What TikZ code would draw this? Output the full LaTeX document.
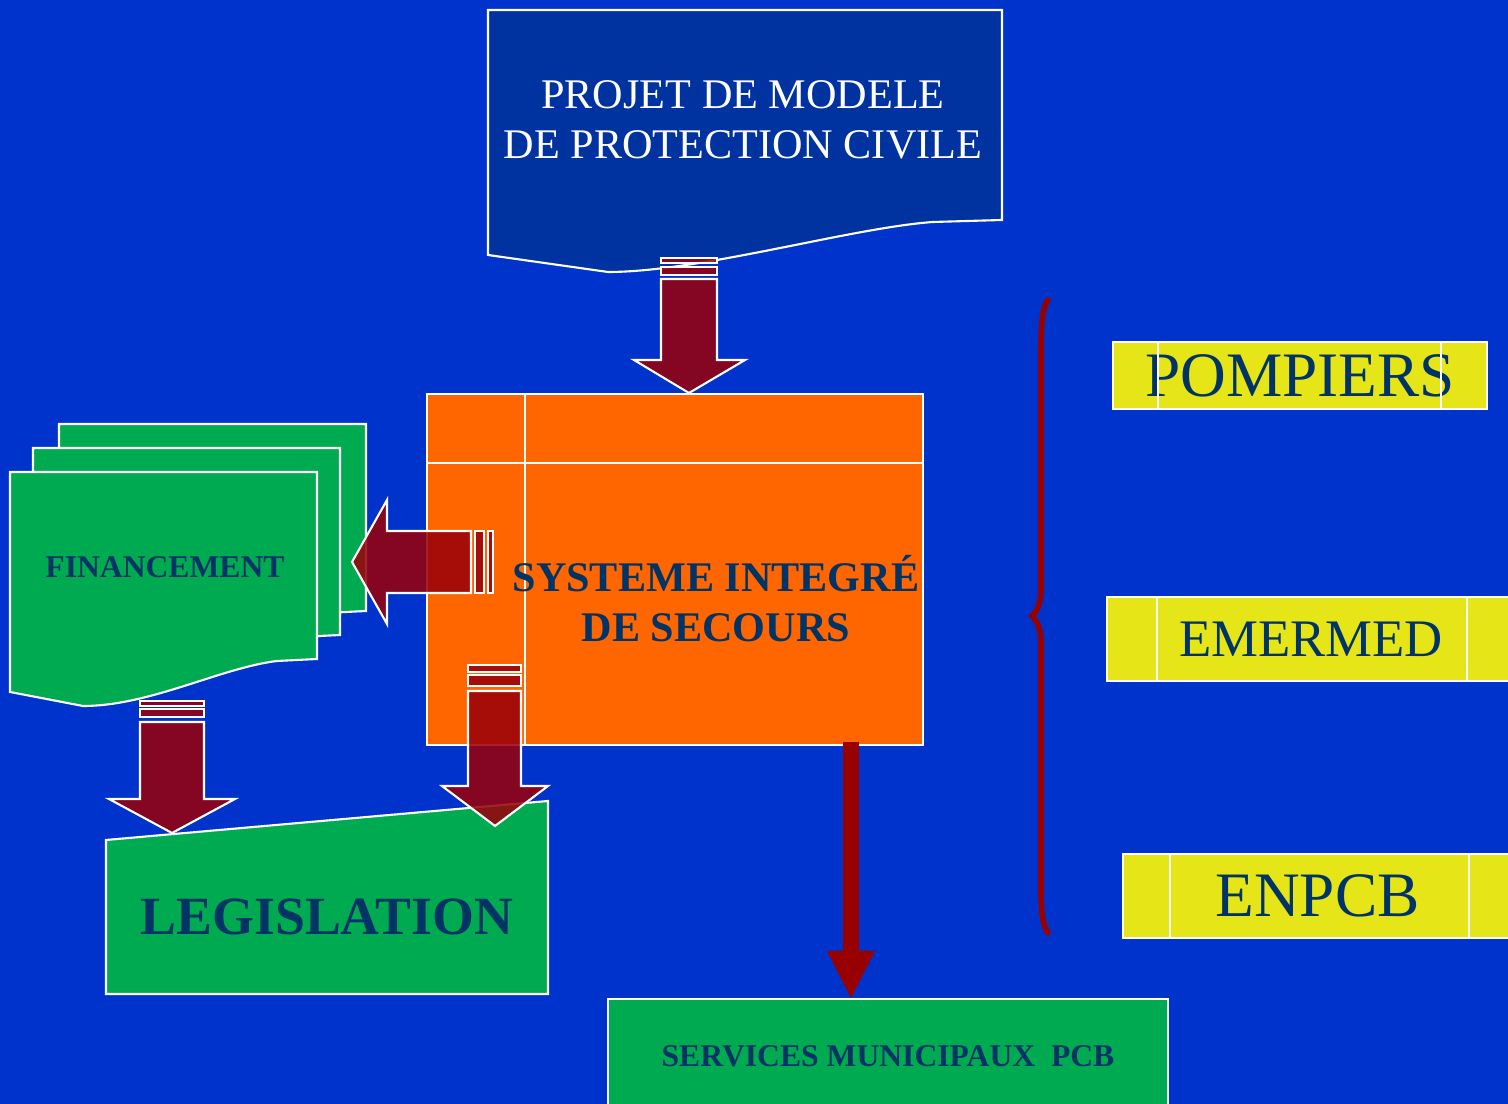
\documentclass[tikz,border=0pt]{standalone}
\usepackage{fontspec}
\setmainfont{Liberation Serif}
\usetikzlibrary{arrows.meta,positioning}

\definecolor{bgblue}{RGB}{0,51,204}
\definecolor{docblue}{RGB}{0,51,160}
\definecolor{sysorange}{RGB}{255,102,0}
\definecolor{docgreen}{RGB}{0,170,80}
\definecolor{tagyellow}{RGB}{229,229,23}
\definecolor{textnavy}{RGB}{0,51,102}
\definecolor{arrowred}{RGB}{153,0,10}
\definecolor{darkred}{RGB}{153,0,0}

\begin{document}
\begin{tikzpicture}[x=0.01cm,y=-0.01cm,
  panel/.style={draw=white,line width=0.6pt},
  blockarrow/.style={draw=white,line width=0.6pt,fill=arrowred,fill opacity=0.87},
  boxtext/.style={text=textnavy,font=\bfseries,align=center,inner sep=0pt},
  unittag/.style={panel,fill=tagyellow,text=textnavy,inner sep=0pt},
  bracket/.style={draw=darkred,line width=1.6pt,line cap=round}]
\useasboundingbox (0,0) rectangle (1508,1104);
\fill[bgblue] (0,0) rectangle (1508,1104);

% document on top
\draw[panel,fill=docblue] (488,10) -- (1002,10) -- (1002,220) -- (933,222)
  .. controls (850,228) and (700,272) .. (608,272) -- (488,255) -- cycle;
\node[text=white,align=center,font=\fontsize{12}{14.2}\selectfont] (projet) at (743,120)
  {PROJET DE MODELE\\DE PROTECTION CIVILE};

% stack of documents
\foreach \dx/\dy in {49/-48,23/-24,0/0}
  \draw[panel,fill=docgreen,shift={(\dx,\dy)}] (10,472) -- (317,472) -- (317,659) -- (277,661)
    .. controls (220,668) and (150,706) .. (83,706) -- (10,692) -- cycle;
\node[boxtext,font=\bfseries\fontsize{9}{11}\selectfont] (fin) at (165,567) {FINANCEMENT};

% legislation
\draw[panel,fill=docgreen] (106,840) -- (548,801) -- (548,994) -- (106,994) -- cycle;
\node[boxtext,font=\bfseries\fontsize{15.3}{18}\selectfont] (leg) at (327,917) {LEGISLATION};

% central system
\node[panel,fill=sysorange,minimum width=4.96cm,minimum height=3.51cm] (sys) at (675,569.5) {};
\draw[white,line width=0.6pt] (427,463) -- (923,463);
\draw[white,line width=0.6pt] (525,394) -- (525,745);

% municipal services
\node[panel,fill=docgreen,minimum width=5.6cm,minimum height=1.14cm,anchor=north,
  boxtext,font=\bfseries\fontsize{9}{11}\selectfont] (svc) at (888,998)
  {SERVICES MUNICIPAUX\ \ PCB};

% units on the right
\node[unittag,minimum width=3.74cm,minimum height=0.67cm,font=\fontsize{18}{21}\selectfont]
  (pomp) at (1300,375.5) {POMPIERS};
\node[unittag,minimum width=4.08cm,minimum height=0.84cm,font=\fontsize{15}{18}\selectfont]
  (emer) at (1311,639) {EMERMED};
\node[unittag,minimum width=3.89cm,minimum height=0.84cm,font=\fontsize{18}{21}\selectfont]
  (enpcb) at (1317.5,896) {ENPCB};
\draw[white,line width=0.6pt] (1158,342) -- (1158,409) (1441,342) -- (1441,409);
\draw[white,line width=0.6pt] (1157,597) -- (1157,681) (1467,597) -- (1467,681);
\draw[white,line width=0.6pt] (1170,854) -- (1170,938) (1469,854) -- (1469,938);

\draw[bracket] (1048,300) .. controls (1041,310) and (1041,330) .. (1041,360) -- (1041,590)
  .. controls (1041,605) and (1036,612) .. (1032,616)
  .. controls (1036,620) and (1041,627) .. (1041,642) -- (1041,890)
  .. controls (1041,915) and (1043,925) .. (1048,933);

% block arrows
\draw[blockarrow] (661,258) rectangle (717,263);
\draw[blockarrow] (661,267) rectangle (717,275);
\draw[blockarrow] (661,279) -- (717,279) -- (717,360) -- (745,360) -- (689,393)
  -- (634,360) -- (661,360) -- cycle;

\draw[blockarrow] (475,531) rectangle (484,593);
\draw[blockarrow] (488,531) rectangle (493,593);
\draw[blockarrow] (471,531) -- (387,531) -- (387,500) -- (352,562) -- (387,624)
  -- (387,593) -- (471,593) -- cycle;

\draw[blockarrow] (468,665) rectangle (521,672);
\draw[blockarrow] (468,675) rectangle (521,686);
\draw[blockarrow] (468,691) -- (521,691) -- (521,786) -- (548,786) -- (495,826)
  -- (442,786) -- (468,786) -- cycle;

\draw[blockarrow] (140,701) rectangle (204,706);
\draw[blockarrow] (140,709) rectangle (204,717);
\draw[blockarrow] (140,722) -- (204,722) -- (204,799) -- (235,799) -- (172,833)
  -- (109,799) -- (140,799) -- cycle;

\node[boxtext,font=\bfseries\fontsize{12}{14.2}\selectfont] (systxt) at (716,599)
  {SYSTEME INTEGRÉ\\DE SECOURS};

% thick arrow down
\coordinate (drop) at (851,742);
\draw[draw=darkred,line width=0.16cm,-{Triangle[width=0.48cm,length=0.47cm,line width=0pt]}]
  (drop) -- (drop |- svc.north);
\end{tikzpicture}
\end{document}
